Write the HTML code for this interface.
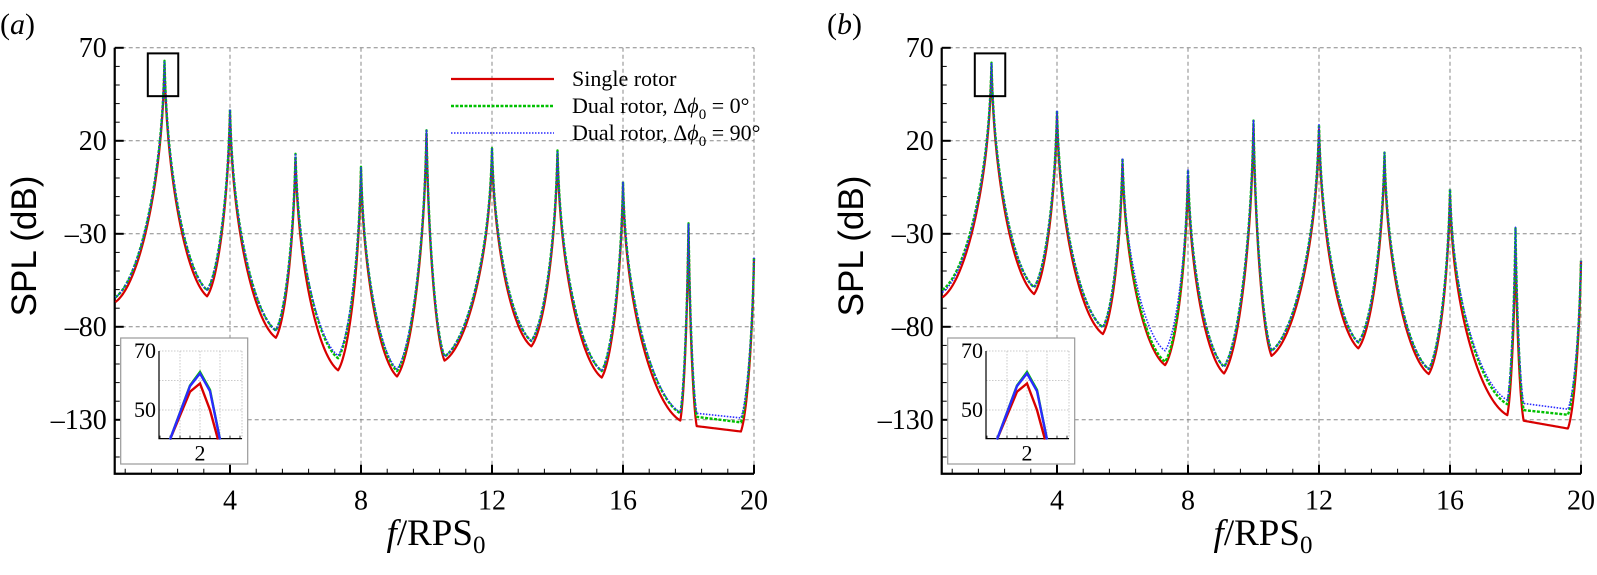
<!DOCTYPE html>
<html><head><meta charset="utf-8"><style>
html,body{margin:0;padding:0;background:#fff;}
svg{display:block;}
text{font-family:"Liberation Serif",serif;fill:#000;}
</style></head><body>
<svg id="fig" width="1597" height="575" viewBox="0 0 1597 575" xmlns="http://www.w3.org/2000/svg"></svg>
<script>
// ---- data ----
const knotF    = [0.5, 2, 3.3, 4, 5.4, 6, 7.3, 8, 9.1, 10, 10.55, 12, 13.2, 14, 15.35, 16, 17.75, 18, 18.25, 19.6, 20];
const knotType = ['t','p','t','p','t','p','t','p','t','p','t','p','t','p','t','p','t','p','t','t','p'];
const aSingle  = [-66.7, 61, -63.6, 35, -85.9, 11, -103.4, 4, -106.7, 24, -98.2, 14, -90.5, 13, -107.3, -4, -130.4, -27, -133.4, -136.3, -43];
const aDual0   = [-64.2, 63, -60.3, 37, -82, 13, -96.9, 6, -103.8, 25.6, -96, 16, -87.6, 14.8, -103.8, -2, -126.5, -24.4, -128.4, -131.4, -42.5];
const aDual90  = [-64.2, 63, -60.3, 37, -82, 12.6, -95.5, 5.6, -102.8, 25.6, -96, 15.7, -87.6, 14.6, -103.8, -2, -126, -24.4, -126.5, -129, -42.5];
const bSingle  = [-64.2, 60, -62.4, 34, -83.9, 8, -100.6, 1, -105.1, 28, -95.6, 26, -91.6, 11, -105.4, -9, -127.5, -36, -130.5, -134.7, -45];
const bDual0   = [-60.2, 62, -58.8, 36.3, -80.3, 10.6, -98.8, 4.3, -101.5, 30.9, -92.9, 28.7, -88.4, 13.7, -102.7, -5.9, -121.6, -27, -124.8, -127.3, -44.4];
const bDual90  = [-61.5, 62, -58.8, 36.3, -80.3, 10.6, -92.9, 4.3, -101.5, 30.9, -92.9, 28.7, -88.4, 13.7, -102.7, -5.9, -119.4, -26.5, -121.2, -124.3, -44.4];
// inset (zoom near f = 2)
const insetF      = [1.85, 1.95, 2.0, 2.05, 2.09];
const insetSingle = [40, 56.2, 59, 50, 40];
const insetF2     = [1.85, 1.95, 2.0, 2.05, 2.1];
const insetDual0  = [40, 58.3, 62.9, 56.8, 40];
const insetDual90 = [40, 58.1, 62.4, 56.4, 40];
const yTicks = [70, 20, -30, -80, -130];
const yTickLabels = ['70', '20', '\u201330', '\u201380', '\u2013130'];
const xTicks = [4, 8, 12, 16, 20];
const insetYTicks = [70, 50];

const NS = 'http://www.w3.org/2000/svg';
const svg = document.getElementById('fig');
function mk(tag, attrs, parent) {
  const e = document.createElementNS(NS, tag);
  for (const k in attrs) e.setAttribute(k, attrs[k]);
  (parent || svg).appendChild(e);
  return e;
}
const XMIN = 0.48, XMAX = 20, YMIN = -159, YMAX = 70;

function curvePoints(vals, sx, sy) {
  const pts = [];
  for (let i = 0; i < knotF.length - 1; i++) {
    const f1 = knotF[i], f2 = knotF[i + 1], v1 = vals[i], v2 = vals[i + 1];
    const t1 = knotType[i], t2 = knotType[i + 1];
    const N = 90;
    for (let j = 0; j <= N; j++) {
      let f, v;
      if (t1 === 't' && t2 === 't') {
        const u = j / N; f = f1 + (f2 - f1) * u; v = v1 + (v2 - v1) * u;
      } else {
        const P = t1 === 'p' ? v1 : v2;
        const T = t1 === 'p' ? v2 : v1, D = Math.abs(f2 - f1);
        let s = j / N; if (t2 === 'p') s = 1 - s;
        const r = Math.pow(s, 2.5);
        const d = D * r;
        const w = 0.03;
        const g = Math.log(1 + d / w) / Math.log(1 + D / w);
        const q = 1 - (1 - r) * (1 - r);
        const h = 0.6 * g + 0.4 * q;
        v = P - (P - T) * h;
        f = t1 === 'p' ? f1 + d : f2 - d;
      }
      pts.push(sx(f).toFixed(2) + ',' + sy(v).toFixed(2));
    }
  }
  return pts.join(' ');
}

function panel(ox, label, sSingle, sDual0, sDual90, withLegend, pname) {
  const g = mk('g', {});
  
  
  const sx = f => ox + 230 + (f - 4) * 32.75;
  const sy = v => 47.8 + (YMAX - v) * 1.86;
  const L = sx(XMIN), R = sx(XMAX), T = sy(YMAX), B = sy(YMIN);
  yTicks.forEach(v => {
    const l = mk('line', {x1: L, x2: R, y1: sy(v), y2: sy(v), stroke: '#888', 'stroke-width': 1, 'stroke-dasharray': '4,3'}, g);
    
    
  });
  xTicks.forEach(f => {
    const l = mk('line', {x1: sx(f), x2: sx(f), y1: T, y2: B, stroke: '#888', 'stroke-width': 1, 'stroke-dasharray': '4,3'}, g);
    
    
  });
  for (let v = -150; v <= 70; v += 10) {
    const major = yTicks.includes(v);
    mk('line', {x1: L, x2: L + (major ? 9 : 5), y1: sy(v), y2: sy(v), stroke: '#000', 'stroke-width': major ? 2 : 1}, g);
  }
  for (let k = 1; k <= 25; k++) {
    const f = k * 0.8; if (f < XMIN) continue;
    const major = Math.abs(f / 4 - Math.round(f / 4)) < 1e-6;
    mk('line', {x1: sx(f), x2: sx(f), y1: B, y2: B - (major ? 9 : 5), stroke: '#000', 'stroke-width': major ? 2 : 1}, g);
  }
  const ax = mk('path', {d: `M${L},${T} L${L},${B} L${R},${B}`, fill: 'none', stroke: '#000', 'stroke-width': 2.2}, g);
  
  
  yTicks.forEach((v, i) => {
    const t = mk('text', {x: L - 8, y: sy(v) + 9, 'text-anchor': 'end', 'font-size': 28}, g);
    t.textContent = yTickLabels[i];
    
    
  });
  xTicks.forEach(f => {
    const t = mk('text', {x: sx(f), y: B + 36, 'text-anchor': 'middle', 'font-size': 28}, g);
    t.textContent = String(f);
    
    
  });
  const series = [
    [sSingle, {stroke: '#d80000', 'stroke-width': 2.2}, 'single-rotor-line'],
    [sDual0, {stroke: '#00c000', 'stroke-width': 2.4, 'stroke-dasharray': '3,1.5'}, 'dual-rotor-0-line'],
    [sDual90, {stroke: '#2a2aff', 'stroke-width': 1.6, 'stroke-dasharray': '1.5,1.5'}, 'dual-rotor-90-line']
  ];
  series.forEach(([vals, st, nm]) => {
    const p = mk('polyline', Object.assign({points: curvePoints(vals, sx, sy), fill: 'none', 'stroke-linejoin': 'round'}, st), g);
    
    
  });
  const zr = mk('rect', {x: sx(1.49), y: sy(67), width: sx(2.42) - sx(1.49), height: sy(44) - sy(67), fill: 'none', stroke: '#000', 'stroke-width': 2}, g);
  
  
  const yl = mk('text', {x: 0, y: 0, transform: `translate(${ox + 36},246) rotate(-90)`, 'text-anchor': 'middle', 'font-size': 35, style: 'font-family:"Liberation Sans",sans-serif'}, g);
  yl.textContent = 'SPL (dB)';
  
  
  const xl = mk('text', {x: ox + 436, y: 545, 'text-anchor': 'middle', 'font-size': 37}, g);
  xl.innerHTML = '<tspan font-style="italic">f</tspan>/RPS<tspan font-size="25" dy="8">0</tspan>';
  
  
  const pl = mk('text', {x: ox + 0, y: 34, 'font-size': 30}, g);
  pl.innerHTML = '(<tspan font-style="italic">' + label + '</tspan>)';
  
  
  const ig = mk('g', {}, g);
  
  
  mk('rect', {x: ox + 120.7, y: 338, width: 127, height: 126, fill: '#fff', stroke: '#999', 'stroke-width': 1.2}, ig);
  const ix = f => ox + 200 + (f - 2) * 200;
  const iy = v => 351 + (70 - v) * 2.95;
  const iL = ix(1.795), iR = ix(2.21), iT = iy(70), iB = iy(40.3);
  [1.9, 2.0, 2.1].forEach(f => mk('line', {x1: ix(f), x2: ix(f), y1: iT, y2: iB, stroke: '#bbb', 'stroke-width': 0.8, 'stroke-dasharray': '1.5,1.5'}, ig));
  [70, 60, 50].forEach(v => mk('line', {x1: iL, x2: iR, y1: iy(v), y2: iy(v), stroke: '#bbb', 'stroke-width': 0.8, 'stroke-dasharray': '1.5,1.5'}, ig));
  mk('line', {x1: iR, x2: iR, y1: iT, y2: iB, stroke: '#bbb', 'stroke-width': 0.8, 'stroke-dasharray': '1.5,1.5'}, ig);
  for (let k = 0; k < 9; k++) mk('line', {x1: ix(1.8 + k * 0.05), x2: ix(1.8 + k * 0.05), y1: iB, y2: iB - 3, stroke: '#000', 'stroke-width': 0.8}, ig);
  mk('path', {d: `M${iL},${iT} L${iL},${iB} L${iR},${iB}`, fill: 'none', stroke: '#000', 'stroke-width': 1.2}, ig);
  insetYTicks.forEach(v => {
    const t = mk('text', {x: iL - 3, y: iy(v) + 7, 'text-anchor': 'end', 'font-size': 22}, ig);
    t.textContent = String(v);
    
    
  });
  const t2 = mk('text', {x: ix(2), y: iB + 22, 'text-anchor': 'middle', 'font-size': 22}, ig);
  t2.textContent = '2';
  
  
  const inS = [
    [insetF, insetSingle, '#d80000', 'inset-single-line'],
    [insetF2, insetDual0, '#00c000', 'inset-dual-0-line'],
    [insetF2, insetDual90, '#2a2aff', 'inset-dual-90-line']
  ];
  inS.forEach(([fs, vs, c, nm]) => {
    const p = mk('polyline', {points: fs.map((f, i) => ix(f) + ',' + iy(vs[i])).join(' '), fill: 'none', stroke: c, 'stroke-width': 2.4}, ig);
    
    
  });
  if (withLegend) {
    const lg = mk('g', {}, g);
    
    
    const items = [
      [{stroke: '#d80000', 'stroke-width': 2.2}, 79],
      [{stroke: '#00c000', 'stroke-width': 2.4, 'stroke-dasharray': '3,1.5'}, 106],
      [{stroke: '#2a2aff', 'stroke-width': 1.6, 'stroke-dasharray': '1.5,1.5'}, 133]
    ];
    items.forEach(([st, y], i) => {
      const e = mk('line', Object.assign({x1: ox + 451, x2: ox + 554, y1: y, y2: y}, st), lg);
      
      
      const t = mk('text', {x: ox + 572, y: y + 7, 'font-size': 22}, lg);
      
      
      if (i === 0) t.textContent = 'Single rotor';
      else t.innerHTML = 'Dual rotor, \u0394<tspan font-style="italic">ϕ</tspan><tspan font-size="15" dy="6">0</tspan><tspan dy="-6"> = ' + (i === 1 ? '0' : '90') + '°</tspan>';
    });
  }
}
panel(0, 'a', aSingle, aDual0, aDual90, true, 'panel-a');
panel(827, 'b', bSingle, bDual0, bDual90, false, 'panel-b');
</script>
</body></html>
